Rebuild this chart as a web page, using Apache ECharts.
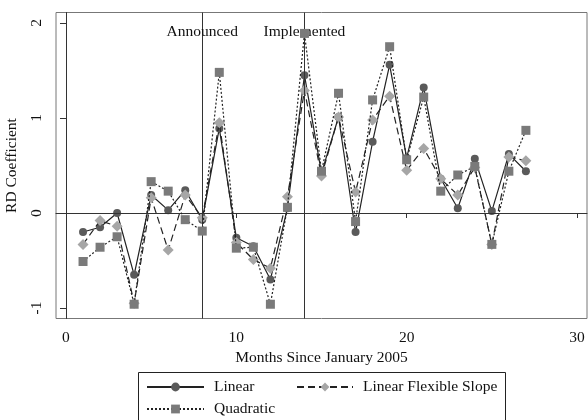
<!DOCTYPE html>
<html>
<head>
<meta charset="utf-8">
<title>RD Coefficient by Month</title>
<script src="https://cdn.jsdelivr.net/npm/echarts@6/dist/echarts.min.js"></script>
<style>
  html, body { margin: 0; padding: 0; background: #fff; }
  #chart { width: 588px; height: 420px; }
</style>
</head>
<body>
<div id="chart"></div>
<script>
// Months since January 2005
var months = [1, 2, 3, 4, 5, 6, 7, 8, 9, 10, 11, 12, 13, 14, 15, 16, 17, 18, 19, 20, 21, 22, 23, 24, 25, 26, 27];

// RD coefficient estimates for each specification
var linearValues = [-0.20, -0.15, 0.00, -0.65, 0.19, 0.03, 0.24, -0.07, 0.89, -0.26, -0.35, -0.70, 0.05, 1.45, 0.42, 1.01, -0.20, 0.75, 1.56, 0.58, 1.32, 0.36, 0.05, 0.57, 0.02, 0.62, 0.44];
var flexibleValues = [-0.33, -0.08, -0.14, -0.95, 0.16, -0.39, 0.19, -0.05, 0.95, -0.31, -0.49, -0.58, 0.17, 1.29, 0.39, 1.01, 0.22, 0.98, 1.23, 0.45, 0.68, 0.36, 0.19, 0.48, -0.33, 0.59, 0.55];
var quadraticValues = [-0.51, -0.36, -0.25, -0.96, 0.33, 0.23, -0.07, -0.19, 1.48, -0.37, -0.36, -0.96, 0.06, 1.89, 0.44, 1.26, -0.09, 1.19, 1.75, 0.56, 1.22, 0.23, 0.40, 0.49, -0.33, 0.44, 0.87];

// Axis ticks and policy event months
var xTicks = [0, 10, 20, 30];
var yTicks = [-1, 0, 1, 2];
var eventMonths = [8, 14];
var eventNames = ['Announced', 'Implemented'];
var eventLabelY = 1.905;

var seriesNames = ['Linear', 'Linear Flexible Slope', 'Quadratic'];

function pairs(values) {
  return months.map(function (m, i) { return [m, values[i]]; });
}

var FONT = 'Liberation Serif, Times New Roman, serif';
var FS = 15.5;

var chart = echarts.init(document.getElementById('chart'), null, { renderer: 'canvas' });

var legendBase = {
  orient: 'horizontal',
  padding: 0,
  itemHeight: 11,
  itemGap: 10,
  selectedMode: false,
  textStyle: { fontFamily: FONT, fontSize: FS, color: '#111', lineHeight: 16, padding: [0, 0, 0, 5] }
};

chart.setOption({
  animation: false,
  backgroundColor: '#ffffff',
  grid: {
    left: 56, right: 1, top: 12.5, bottom: 101.5,
    containLabel: false,
    outerBoundsMode: 'none',
    show: true, borderColor: '#777', borderWidth: 1,
    backgroundColor: 'transparent'
  },
  xAxis: {
    type: 'value',
    min: -0.587, max: 30.587,
    splitLine: { show: false },
    axisLine: { show: true, lineStyle: { color: '#333', width: 1 } },
    axisTick: { show: true, customValues: xTicks, length: 5, lineStyle: { color: '#333' } },
    axisLabel: { show: true, customValues: xTicks, margin: 11, fontFamily: FONT, fontSize: FS, color: '#111' },
    name: 'Months Since January 2005',
    nameLocation: 'middle',
    nameGap: 26,
    nameTextStyle: { fontFamily: FONT, fontSize: FS, color: '#111' }
  },
  yAxis: {
    type: 'value',
    min: -1.11, max: 2.11,
    splitLine: { show: false },
    axisLine: { show: true, lineStyle: { color: '#333', width: 1 } },
    axisTick: { show: true, customValues: yTicks, length: 6, lineStyle: { color: '#333' } },
    axisLabel: { show: true, customValues: yTicks, rotate: 90, margin: 11, fontFamily: FONT, fontSize: FS, color: '#111' },
    name: 'RD Coefficient',
    nameLocation: 'middle',
    nameGap: 36,
    nameTextStyle: { fontFamily: FONT, fontSize: FS, color: '#111' }
  },
  legend: [
    Object.assign({}, legendBase, { data: [seriesNames[0]], left: 146, top: 379, itemWidth: 57 }),
    Object.assign({}, legendBase, { data: [seriesNames[1]], left: 296, top: 379, itemWidth: 56 }),
    Object.assign({}, legendBase, { data: [seriesNames[2]], left: 146, top: 401, itemWidth: 57 })
  ],
  graphic: [{
    type: 'rect',
    shape: { x: 138.5, y: 372.5, width: 367, height: 70 },
    style: { fill: 'none', stroke: '#222', lineWidth: 1 },
    silent: true
  }],
  series: [
    {
      name: 'Reference lines',
      type: 'line',
      data: [],
      silent: true,
      markLine: {
        silent: true,
        symbol: 'none',
        label: { show: false },
        lineStyle: { color: '#333', width: 1, type: 'solid' },
        data: eventMonths.map(function (m) { return { xAxis: m }; }).concat([{ yAxis: 0 }])
      }
    },
    {
      name: 'Event labels',
      type: 'line',
      data: [],
      silent: true,
      z: 10,
      markPoint: {
        silent: true,
        symbol: 'rect',
        symbolSize: 1,
        itemStyle: { color: 'rgba(0,0,0,0)' },
        label: {
          show: true, position: 'inside',
          fontFamily: FONT, fontSize: FS, color: '#111',
          formatter: function (p) { return p.name; }
        },
        data: eventMonths.map(function (m, i) {
          return { name: eventNames[i], coord: [m, eventLabelY] };
        })
      }
    },
    {
      name: seriesNames[0],
      type: 'line',
      data: pairs(linearValues),
      symbol: 'circle',
      symbolSize: 8,
      z: 3,
      lineStyle: { color: '#222', width: 1.2, type: 'solid' },
      itemStyle: { color: '#5a5a5a', borderWidth: 0 }
    },
    {
      name: seriesNames[1],
      type: 'line',
      data: pairs(flexibleValues),
      symbol: 'diamond',
      symbolSize: 11,
      z: 4,
      lineStyle: { color: '#222', width: 1.2, type: [7, 4] },
      itemStyle: { color: '#a6a6a6', borderWidth: 0 }
    },
    {
      name: seriesNames[2],
      type: 'line',
      data: pairs(quadraticValues),
      symbol: 'rect',
      symbolSize: 9,
      z: 5,
      lineStyle: { color: '#222', width: 1.2, type: [2, 2] },
      itemStyle: { color: '#7a7a7a', borderWidth: 0 }
    }
  ]
});
</script>
</body>
</html>
